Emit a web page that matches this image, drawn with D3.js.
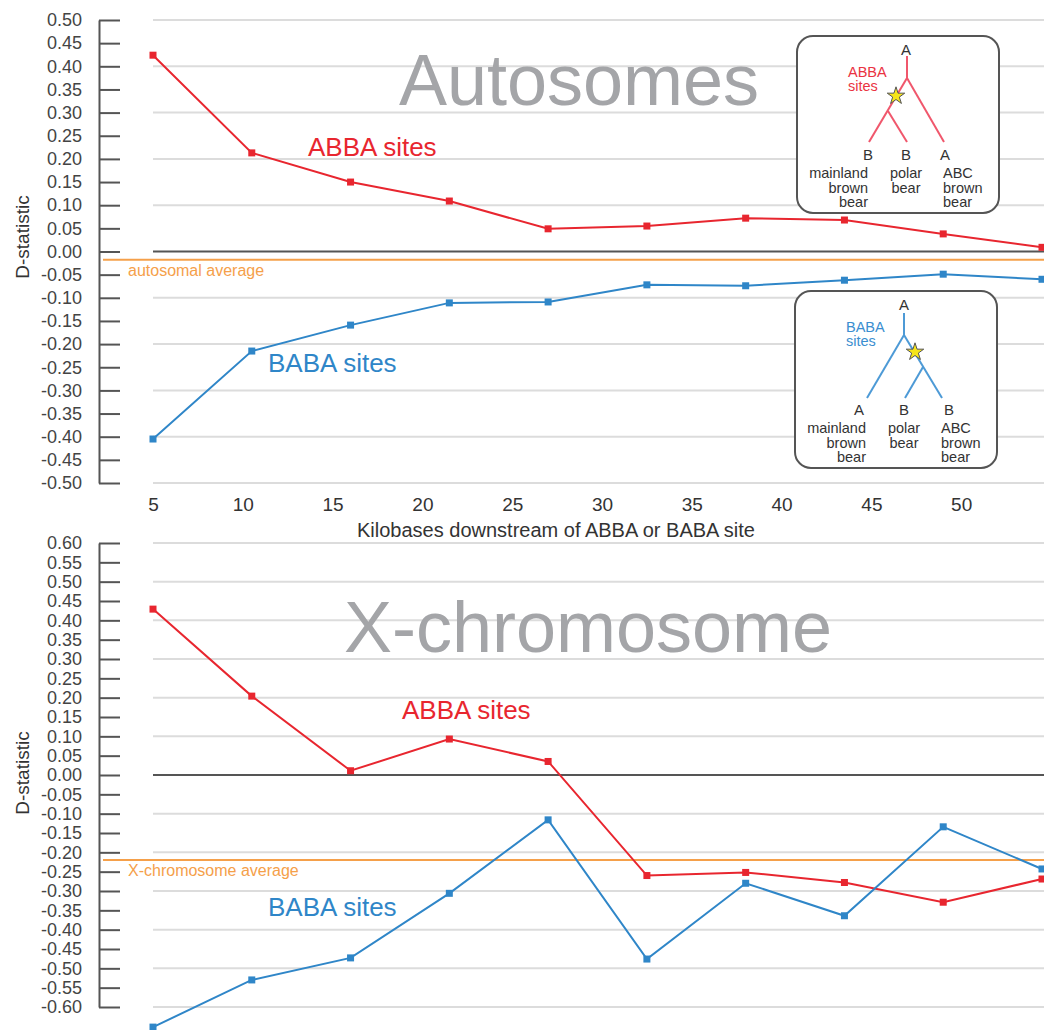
<!DOCTYPE html>
<html>
<head>
<meta charset="utf-8">
<script src="https://cdn.jsdelivr.net/npm/d3@7"></script>
<style>
  body { margin: 0; background: #fff; }
  svg { display: block; font-family: "Liberation Sans", Arial, sans-serif; }
</style>
</head>
<body>
<div class="graph"></div>
<script>
// distance downstream (kb) of each window
const kilobases = [5, 10.5, 16, 21.5, 27, 32.5, 38, 43.5, 49, 54.5];
const xTickValues = [5, 10, 15, 20, 25, 30, 35, 40, 45, 50];

// autosomes
const autoAbba = [0.424, 0.213, 0.150, 0.109, 0.049, 0.055, 0.072, 0.068, 0.038, 0.009];
const autoBaba = [-0.405, -0.215, -0.159, -0.111, -0.109, -0.072, -0.074, -0.062, -0.049, -0.060];
const autoAverage = -0.018;

// x-chromosome
const xAbba = [0.429, 0.204, 0.011, 0.093, 0.035, -0.260, -0.252, -0.278, -0.329, -0.269];
const xBaba = [-0.652, -0.530, -0.473, -0.306, -0.116, -0.476, -0.280, -0.364, -0.134, -0.243];
const xAverage = -0.220;

const RED = "#e8262f", BLUE = "#2f86c8", ORANGE = "#f5a04a";
const W = 1044, H = 1030;

var svg = d3.select(".graph").append("svg")
  .attr("width", W).attr("height", H);

var x = d3.scaleLinear().domain([5, 54.5]).range([153, 1042]);
var axisX = 99, gridX0 = 153;

function fmt(d) {
  if (Math.abs(d) < 1e-9) d = 0;
  return d.toFixed(2);
}

function drawPanel(opts) {
  var y = opts.y;
  var g = svg.append("g");

  // gridlines every 0.10
  var ticks = d3.range(Math.round(opts.domain[0] * 20), Math.round(opts.domain[1] * 20) + 1).map(d => d / 20);
  var grid = ticks.filter(d => Math.round(d * 20) % 2 == 0 && Math.abs(d) > 1e-9);
  g.selectAll(".grid").data(grid).enter().append("line")
    .attr("x1", gridX0).attr("x2", W)
    .attr("y1", d => y(d)).attr("y2", d => y(d))
    .attr("stroke", "#dcdcdc").attr("stroke-width", 2);

  // zero line
  g.append("line")
    .attr("x1", gridX0).attr("x2", W)
    .attr("y1", y(0)).attr("y2", y(0))
    .attr("stroke", "#555").attr("stroke-width", 2);

  // y axis, ticks point inwards
  var ax = g.append("g")
    .attr("transform", "translate(" + axisX + ",0)")
    .call(d3.axisLeft(y).tickValues(ticks).tickSizeInner(-21).tickSizeOuter(0)
      .tickPadding(17).tickFormat(fmt));
  ax.select(".domain").attr("stroke", "#555").attr("stroke-width", 2);
  ax.selectAll(".tick line").attr("stroke", "#555").attr("stroke-width", 2);
  ax.selectAll(".tick text").attr("fill", "#444").style("font-size", "18px")
    .style("font-family", "Liberation Sans, Arial, sans-serif");

  // y axis title
  g.append("text")
    .attr("transform", "translate(24," + opts.titleY + ") rotate(-90)")
    .attr("text-anchor", "middle").attr("dominant-baseline", "middle")
    .attr("fill", "#333").style("font-size", "19px")
    .text("D-statistic");

  // big panel name
  g.append("text")
    .attr("x", opts.nameX).attr("y", opts.nameY)
    .attr("text-anchor", "middle")
    .attr("fill", "#a4a5a8").style("font-size", "72px")
    .text(opts.name);

  // average line
  g.append("line")
    .attr("x1", 103).attr("x2", W)
    .attr("y1", y(opts.average)).attr("y2", y(opts.average))
    .attr("stroke", ORANGE).attr("stroke-width", 2);
  g.append("text")
    .attr("x", 128).attr("y", y(opts.average) + 16)
    .attr("fill", ORANGE).style("font-size", "16px")
    .text(opts.averageLabel);

  // series
  [[opts.abba, RED], [opts.baba, BLUE]].forEach(function(s) {
    var data = s[0].map((v, i) => ({ k: kilobases[i], v: v }));
    g.append("path")
      .datum(data)
      .attr("fill", "none")
      .attr("stroke", s[1])
      .attr("stroke-width", 2)
      .attr("d", d3.line().x(d => x(d.k)).y(d => y(d.v)));
    g.selectAll(null).data(data).enter().append("rect")
      .attr("x", d => x(d.k) - 3.5).attr("y", d => y(d.v) - 3.5)
      .attr("width", 7).attr("height", 7)
      .attr("fill", s[1]);
  });

  // series labels
  g.append("text")
    .attr("x", opts.abbaLabel[0]).attr("y", opts.abbaLabel[1])
    .attr("fill", RED).style("font-size", "26px").text("ABBA sites");
  g.append("text")
    .attr("x", opts.babaLabel[0]).attr("y", opts.babaLabel[1])
    .attr("fill", BLUE).style("font-size", "26px").text("BABA sites");

  return g;
}

// ---- Autosomes ----
var yTop = d3.scaleLinear().domain([-0.5, 0.5]).range([483, 20]);
drawPanel({
  y: yTop, domain: [-0.5, 0.5], titleY: 237,
  name: "Autosomes", nameX: 579, nameY: 105,
  average: autoAverage, averageLabel: "autosomal average",
  abba: autoAbba, baba: autoBaba,
  abbaLabel: [308, 156], babaLabel: [268, 372]
});

// x axis labels (top panel only)
var xa = svg.append("g")
  .attr("transform", "translate(0,483)")
  .call(d3.axisBottom(x).tickValues(xTickValues).tickSize(0).tickPadding(15).tickFormat(d3.format("d")));
xa.select(".domain").remove();
xa.selectAll(".tick text").attr("fill", "#333").style("font-size", "19px")
  .style("font-family", "Liberation Sans, Arial, sans-serif");

svg.append("text")
  .attr("x", 556).attr("y", 537)
  .attr("text-anchor", "middle")
  .attr("fill", "#333").style("font-size", "20px")
  .text("Kilobases downstream of ABBA or BABA site");

// ---- X-chromosome ----
var yBot = d3.scaleLinear().domain([-0.6, 0.6]).range([1007, 543]);
drawPanel({
  y: yBot, domain: [-0.6, 0.6], titleY: 773,
  name: "X-chromosome", nameX: 588, nameY: 652,
  average: xAverage, averageLabel: "X-chromosome average",
  abba: xAbba, baba: xBaba,
  abbaLabel: [402, 719], babaLabel: [268, 916]
});

// ---- tree insets ----
function drawTree(tx, ty, kind) {
  var col = kind == "ABBA" ? "#f0576c" : "#4d9ad6";
  var txtCol = kind == "ABBA" ? "#ea3342" : "#3b8ed0";
  var g = svg.append("g").attr("transform", "translate(" + tx + "," + ty + ")");

  g.append("rect")
    .attr("x", 0).attr("y", 0).attr("width", 202).attr("height", 177)
    .attr("rx", 16).attr("ry", 16)
    .attr("fill", "#fff").attr("stroke", "#555").attr("stroke-width", 2);

  var branches, star, tips;
  if (kind == "ABBA") {
    // ((mainland, polar), ABC)
    branches = [[110, 20, 110, 42], [110, 42, 72, 106], [91, 75, 110, 106], [110, 42, 147, 106]];
    star = [99, 60];
    tips = ["B", "B", "A"];
  } else {
    // (mainland, (polar, ABC))
    branches = [[109, 22, 109, 44], [109, 44, 72, 107], [109, 44, 147, 107], [128, 76, 110, 107]];
    star = [120, 61];
    tips = ["A", "B", "B"];
  }
  branches.forEach(function(b) {
    g.append("line").attr("x1", b[0]).attr("y1", b[1]).attr("x2", b[2]).attr("y2", b[3])
      .attr("stroke", col).attr("stroke-width", 2);
  });
  g.append("path")
    .attr("transform", "translate(" + star[0] + "," + star[1] + ")")
    .attr("d", d3.symbol().type(d3.symbolStar).size(95)())
    .attr("fill", "#f6e51a").attr("stroke", "#555").attr("stroke-width", 1);

  g.append("text").attr("x", 109).attr("y", 19).attr("text-anchor", "middle")
    .attr("fill", "#333").style("font-size", "15px").text("A");

  g.append("text").attr("x", 51).attr("y", 41).attr("fill", txtCol)
    .style("font-size", "14.5px").text(kind);
  g.append("text").attr("x", 51).attr("y", 55).attr("fill", txtCol)
    .style("font-size", "14.5px").text("sites");

  var tipX = [71, 109, 148];
  tips.forEach(function(t, i) {
    g.append("text").attr("x", tipX[i] + (kind == "BABA" && i == 0 ? -7 : 0) + (kind == "BABA" && i == 2 ? 6 : 0))
      .attr("y", 124).attr("text-anchor", "middle")
      .attr("fill", "#333").style("font-size", "15px").text(t);
  });

  var names = [
    { lines: ["mainland", "brown", "bear"], x: 71, anchor: "end" },
    { lines: ["polar", "bear"], x: 109, anchor: "middle" },
    { lines: ["ABC", "brown", "bear"], x: 146, anchor: "start" }
  ];
  names.forEach(function(n) {
    n.lines.forEach(function(l, j) {
      g.append("text").attr("x", n.x).attr("y", 142 + j * 14.5)
        .attr("text-anchor", n.anchor)
        .attr("fill", "#333").style("font-size", "14.5px").text(l);
    });
  });
}

drawTree(797, 36, "ABBA");
drawTree(795, 291, "BABA");
</script>
</body>
</html>
